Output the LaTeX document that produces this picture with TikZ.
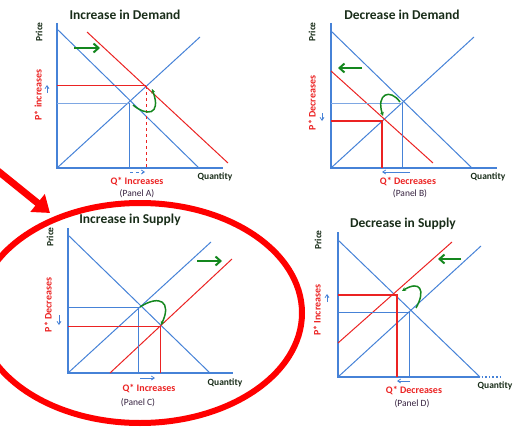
\documentclass[tikz,border=0pt]{standalone}
\usepackage{fontspec}
\setmainfont{Carlito}
\usetikzlibrary{arrows.meta}
\definecolor{curveblue}{RGB}{70,130,215}
\definecolor{curvered}{RGB}{235,35,35}
\definecolor{shiftgreen}{RGB}{20,135,30}
\definecolor{titleink}{RGB}{25,45,25}
\definecolor{panelink}{RGB}{55,35,65}
\definecolor{circlered}{RGB}{255,0,0}
\tikzset{
  axisline/.style={draw=curveblue,line width=1.6pt},
  bluecurve/.style={draw=curveblue,line width=1pt},
  redcurve/.style={draw=curvered,line width=1pt},
  shiftarrow/.style={draw=shiftgreen,line width=2pt,-{Straight Barb[length=5pt,width=9pt]}},
  movearrow/.style={draw=shiftgreen,line width=1.5pt,-{Stealth[length=4pt,width=4pt]}},
  hintarrow/.style={draw=curveblue,line width=0.8pt,-{Straight Barb[length=3pt,width=4pt]}},
  paneltitle/.style={font=\bfseries\fontsize{13.5}{14}\selectfont,text=titleink},
  axislabel/.style={font=\fontsize{9.5}{10}\selectfont\bfseries,text=titleink},
  changelabel/.style={font=\fontsize{10}{11}\selectfont\bfseries,text=curvered},
  panelname/.style={font=\fontsize{9.5}{10}\selectfont,text=panelink}
}
\begin{document}
\begin{tikzpicture}[x=1pt,y=-1pt]
  \useasboundingbox (0,0) rectangle (525,428);
  % Panel A: increase in demand
  \coordinate (A-o) at (57,168);
  \draw[axisline] (57,23) -- (A-o) -- (223,168);
  \draw[bluecurve] (57,29) -- (199,168);
  \draw[bluecurve] (A-o) -- (200,37);
  \draw[redcurve] (87,32) -- (228,163);
  \coordinate (A-e1) at (129,103);
  \coordinate (A-e2) at (146,86);
  \draw[bluecurve,draw=curveblue!70] (57,103) -- (A-e1);
  \draw[bluecurve] (A-e1) -- (129,168);
  \draw[redcurve] (57,86) -- (A-e2);
  \draw[redcurve,dashed] (A-e2) -- (146,168);
  \draw[shiftarrow] (74,48) -- (100,48);
  \draw[movearrow] (133,105) .. controls (146,116) and (162,116) .. (152,89);
  \draw[hintarrow] (47,93) -- (47,85);
  \draw[hintarrow,dashed] (130,172) -- (145,172);
  \node[paneltitle] (A-title) at (125,15) {Increase in Demand};
  \node[axislabel,rotate=90] (A-price) at (39,32) {Price};
  \node[axislabel] (A-qty) at (215,177) {Quantity};
  \node[changelabel,rotate=90] (A-p) at (38,95) {P* increases};
  \node[changelabel] (A-q) at (137,182) {Q* Increases};
  \node[panelname] (A-panel) at (137,194) {(Panel A)};
  % Panel B: decrease in demand
  \coordinate (B-o) at (331,168);
  \draw[axisline] (331,23) -- (B-o) -- (497,168);
  \draw[bluecurve] (331,31) -- (472,168);
  \draw[bluecurve] (B-o) -- (474,37);
  \draw[redcurve] (331,71) -- (433,163);
  \coordinate (B-e1) at (402,103);
  \coordinate (B-e2) at (382,121);
  \draw[bluecurve,draw=curveblue!70] (331,103) -- (B-e1);
  \draw[bluecurve] (B-e1) -- (402,168);
  \draw[redcurve,line width=1.3pt] (331,121) -- (B-e2) -- (382,168);
  \draw[shiftarrow] (362,68) -- (338,68);
  \draw[movearrow] (400,102) .. controls (390,88) and (376,94) .. (383,116);
  \draw[hintarrow] (322,113) -- (322,121);
  \draw[hintarrow] (410,172) -- (382,172);
  \node[paneltitle] (B-title) at (402,15) {Decrease in Demand};
  \node[axislabel,rotate=90] (B-price) at (312,32) {Price};
  \node[axislabel] (B-qty) at (488,177) {Quantity};
  \node[changelabel,rotate=90] (B-p) at (312,103) {P* Decreases};
  \node[changelabel] (B-q) at (408,182) {Q* Decreases};
  \node[panelname] (B-panel) at (410,194) {(Panel B)};
  % Panel C: increase in supply
  \coordinate (C-o) at (68,373);
  \draw[axisline] (68,228) -- (C-o) -- (233,373);
  \draw[bluecurve] (68,235) -- (210,373);
  \draw[bluecurve] (C-o) -- (211,242);
  \draw[redcurve] (110,373) -- (232,259);
  \coordinate (C-e1) at (138,307);
  \coordinate (C-e2) at (160,326);
  \draw[bluecurve] (68,307) -- (C-e1) -- (138,373);
  \draw[redcurve] (68,326) -- (C-e2) -- (160,373);
  \draw[shiftarrow] (197,261) -- (222,261);
  \draw[movearrow] (140,307) .. controls (160,294) and (172,302) .. (161,325);
  \draw[hintarrow] (59,315) -- (59,325);
  \draw[hintarrow] (140,378) -- (155,378);
  \node[paneltitle] (C-title) at (130,220) {Increase in Supply};
  \node[axislabel,rotate=90] (C-price) at (50,237) {Price};
  \node[axislabel] (C-qty) at (225,383) {Quantity};
  \node[changelabel,rotate=90] (C-p) at (48,305) {P* Decreases};
  \node[changelabel] (C-q) at (149,389) {Q* Increases};
  \node[panelname] (C-panel) at (138,403) {(Panel C)};
  % Panel D: decrease in supply
  \coordinate (D-o) at (338,377);
  \draw[axisline] (338,232) -- (D-o) -- (478,377);
  \draw[axisline,dotted] (478,377) -- (503,377);
  \draw[bluecurve] (338,240) -- (480,377);
  \draw[bluecurve] (D-o) -- (481,246);
  \draw[redcurve] (338,343) -- (452,242);
  \coordinate (D-e1) at (409,312);
  \coordinate (D-e2) at (397,295);
  \draw[bluecurve] (338,312) -- (D-e1) -- (409,377);
  \draw[redcurve,line width=1.3pt] (338,295) -- (D-e2) -- (397,377);
  \draw[shiftarrow] (461,259) -- (438,259);
  \draw[movearrow] (416,308) .. controls (426,290) and (420,280) .. (402,291);
  \draw[hintarrow] (327,302) -- (327,294);
  \draw[hintarrow] (410,381) -- (397,381);
  \node[paneltitle] (D-title) at (403,224) {Decrease in Supply};
  \node[axislabel,rotate=90] (D-price) at (318,240) {Price};
  \node[axislabel] (D-qty) at (495,386) {Quantity};
  \node[changelabel,rotate=90] (D-p) at (317,310) {P* Increases};
  \node[changelabel] (D-q) at (414,391) {Q* Decreases};
  \node[panelname] (D-panel) at (412,404) {(Panel D)};
  % highlight
  \draw[circlered,line width=6pt] (140,313) ellipse (162 and 110);
  \coordinate (hl-start) at (-2,171);
  \coordinate (hl-tip) at (50,213);
  \draw[circlered,line width=7pt,-{Triangle[length=16pt,width=22pt]}] (hl-start) -- (hl-tip);
\end{tikzpicture}
\end{document}
